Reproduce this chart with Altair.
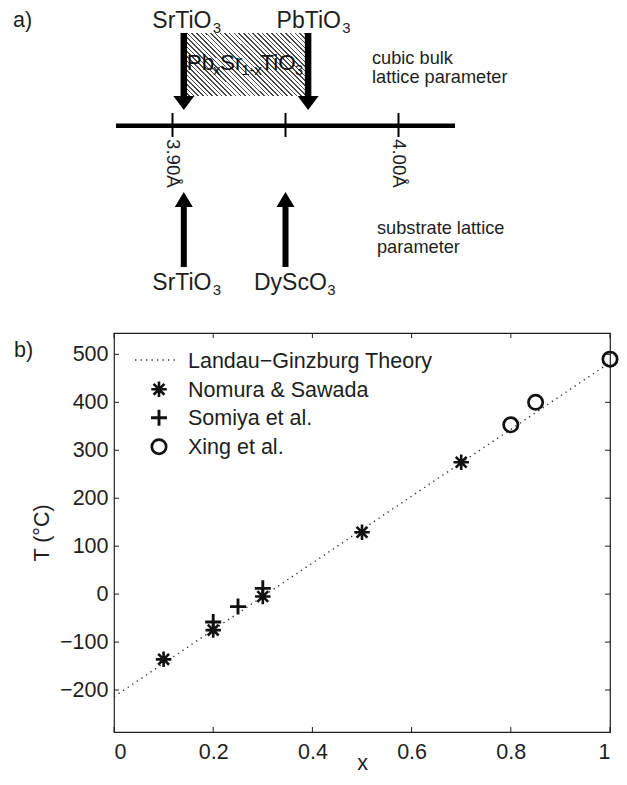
import altair as alt
import pandas as pd

# ---------------- panel b data ----------------
nomura_x = [0.1, 0.2, 0.3, 0.5, 0.7]
nomura_T = [-136, -75, -5, 129, 275]
somiya_x = [0.2, 0.25, 0.3]
somiya_T = [-58, -26, 12]
xing_x = [0.8, 0.85, 1.0]
xing_T = [353, 400, 490]
theory_x = [0.0, 1.0]
theory_T = [-214, 483]
series_names = ["Landau−Ginzburg Theory", "Nomura & Sawada", "Somiya et al.", "Xing et al."]
x_ticks = [0, 0.2, 0.4, 0.6, 0.8, 1.0]
y_ticks = [-200, -100, 0, 100, 200, 300, 400, 500]
x_domain = [0, 1]
y_domain = [-287.5, 544.5]

# ---------------- panel a data (lattice parameter, Å) ----------------
line_ends = [3.875, 4.025]
a_ticks = [3.90, 3.95, 4.00]
a_tick_labels = ["3.90Å", "", "4.00Å"]
bulk_names = ["SrTiO", "PbTiO"]
bulk_a = [3.905, 3.960]
substrate_names = ["SrTiO", "DyScO"]
substrate_a = [3.905, 3.950]
alloy_parts = [("Pb", False), ("x", True), ("Sr", False), ("1-x", True), ("TiO", False), ("3", True)]
note_bulk = ["cubic bulk", "lattice parameter"]
note_sub = ["substrate lattice", "parameter"]

# ---------------- layout helpers ----------------
W, H = 496, 399
TOP, LEFT = 333, 114   # page position of the plot frame (panel-a layout given in page px)
FONT = "Liberation Sans"
INK = "#1e1e1e"
FS_B = 21.5
FS_LABEL = 23
FS_SUB = 15
FS_NOTE = 18.2

# panel-a scale: 3.90 Å at page x 172.5, 2260 px per Å
PX_PER_A = 2260.0
a0_dom = 3.90 - (172.5 - LEFT) / PX_PER_A
a_domain = [a0_dom, a0_dom + W / PX_PER_A]

def py(v):
    return v - TOP

def px(v):
    return v - LEFT

ARIAL = {'S': 667, 'r': 333, 'T': 611, 'i': 222, 'O': 778, 'P': 667, 'b': 556,
         'D': 722, 'y': 500, 'c': 500, 'x': 500, '1': 556, '-': 333, '3': 556}

def tw(s, size):
    return sum(ARIAL.get(ch, 556) for ch in s) / 1000.0 * size

xa = alt.Scale(domain=a_domain, nice=False, zero=False)
xs = alt.Scale(domain=x_domain, nice=False, zero=False)
ys = alt.Scale(domain=y_domain, nice=False, zero=False)

one = pd.DataFrame({"k": [0]})

# ---------------- panel a ----------------
A = []

# hatched box between the bulk values (stripes through a linear gradient)
stops = []
n = 40
for i in range(n):
    o0, o1, o2 = i / n, (i + 0.33) / n, (i + 1) / n
    stops += [alt.GradientStop(color="#4a4a4a", offset=o0),
              alt.GradientStop(color="#4a4a4a", offset=o1),
              alt.GradientStop(color="#ffffff", offset=o1),
              alt.GradientStop(color="#ffffff", offset=o2)]
hatch = alt.LinearGradient(gradient="linear", stops=stops, x1=0, y1=1, x2=1.1986, y2=0.391)
df_box = pd.DataFrame({"a0": [bulk_a[0]], "a1": [bulk_a[1]]})
A.append(alt.Chart(df_box).mark_rect(fill=hatch).encode(
    x=alt.X("a0:Q", scale=xa, axis=None), x2="a1:Q",
    y=alt.value(py(33)), y2=alt.value(py(96))))

# alloy label inside the box
off = 3.0
for txt, sub in alloy_parts:
    fs = 14.5 if sub else 22.5
    A.append(alt.Chart(df_box).mark_text(
        text=txt, align="left", baseline="alphabetic", fontSize=fs, dx=off,
        color="#111111").encode(
        x=alt.X("a0:Q", scale=xa, axis=None),
        y=alt.value(py(75 if sub else 70))))
    off += tw(txt, fs) * (0.93 if sub else 0.96)

# bulk arrows (pointing down)
df_bulk = pd.DataFrame({"a": bulk_a, "name": bulk_names})
A.append(alt.Chart(df_bulk).mark_rule(color="black", strokeWidth=6.5).encode(
    x=alt.X("a:Q", scale=xa, axis=None), y=alt.value(py(33)), y2=alt.value(py(97))))
A.append(alt.Chart(df_bulk).mark_point(
    shape="M-1,-0.667L1,-0.667L0,0.667Z", size=441, filled=True, color="black",
    opacity=1, strokeWidth=0).encode(
    x=alt.X("a:Q", scale=xa, axis=None), y=alt.value(py(103))))

# substrate arrows (pointing up)
df_sub = pd.DataFrame({"a": substrate_a, "name": substrate_names})
A.append(alt.Chart(df_sub).mark_rule(color="black", strokeWidth=6).encode(
    x=alt.X("a:Q", scale=xa, axis=None), y=alt.value(py(205)), y2=alt.value(py(267))))
A.append(alt.Chart(df_sub).mark_point(
    shape="M-1,0.833L1,0.833L0,-0.833Z", size=324, filled=True, color="black",
    opacity=1, strokeWidth=0).encode(
    x=alt.X("a:Q", scale=xa, axis=None), y=alt.value(py(199.5))))

# compound labels with subscript 3
def compound_labels(df, base_y):
    out = []
    for _, r in df.iterrows():
        d = pd.DataFrame({"a": [r["a"]]})
        out.append(alt.Chart(d).mark_text(
            text=r["name"], align="left", baseline="alphabetic", fontSize=FS_LABEL,
            dx=-31.5, color=INK).encode(
            x=alt.X("a:Q", scale=xa, axis=None), y=alt.value(py(base_y))))
        out.append(alt.Chart(d).mark_text(
            text="3", align="left", baseline="alphabetic", fontSize=FS_SUB,
            dx=-31.5 + tw(r["name"], FS_LABEL) + 0.5, color=INK).encode(
            x=alt.X("a:Q", scale=xa, axis=None), y=alt.value(py(base_y + 5))))
    return out

A += compound_labels(df_bulk, 28)
A += compound_labels(df_sub, 290)

# lattice-parameter axis
df_line = pd.DataFrame({"a0": [line_ends[0]], "a1": [line_ends[1]]})
A.append(alt.Chart(df_line).mark_rule(color="black", strokeWidth=4.5).encode(
    x=alt.X("a0:Q", scale=xa, axis=None), x2="a1:Q", y=alt.value(py(125.7))))
df_at = pd.DataFrame({"a": a_ticks, "lab": a_tick_labels})
A.append(alt.Chart(df_at).mark_rule(color="black", strokeWidth=2).encode(
    x=alt.X("a:Q", scale=xa, axis=None), y=alt.value(py(113)), y2=alt.value(py(137))))
A.append(alt.Chart(df_at).mark_text(
    angle=90, align="left", baseline="middle", fontSize=18.7, color=INK).encode(
    x=alt.X("a:Q", scale=xa, axis=None), y=alt.value(py(139)), text="lab:N"))

# notes (two-line texts)
for lines, xx, yy in [(note_bulk, 372, 64), (note_sub, 377, 234)]:
    A.append(alt.Chart(one).mark_text(
        text=lines, align="left", baseline="alphabetic", fontSize=FS_NOTE,
        lineHeight=18.6, color=INK).encode(
        x=alt.value(px(xx)), y=alt.value(py(yy))))

A.append(alt.Chart(one).mark_text(
    text="a)", align="left", baseline="alphabetic", fontSize=FS_B, color=INK).encode(
    x=alt.value(px(13)), y=alt.value(py(26.5))))

panel_a = alt.layer(*A)

# ---------------- panel b ----------------
xaxis = alt.Axis(values=x_ticks, format="~r", title="x", grid=False, ticks=False, tickSize=0,
                 domain=False, labelFontSize=FS_B, labelColor=INK, labelPadding=9,
                 titleFontSize=FS_B, titleFontWeight="normal", titleColor=INK,
                 titleBaseline="alphabetic", titleY=769 - TOP - H)
yaxis = alt.Axis(values=y_ticks, format="~r", title="T (°C)", grid=False, ticks=False, tickSize=0,
                 domain=False, labelFontSize=FS_B, labelColor=INK, labelPadding=6,
                 titleFontSize=FS_B, titleFontWeight="normal", titleColor=INK,
                 titleBaseline="alphabetic", titleX=-66, titleY=H / 2)

def XQ():
    return alt.X("x:Q", scale=xs, axis=xaxis)

def YQ():
    return alt.Y("T:Q", scale=ys, axis=yaxis)

AST = "M0,-1L0,1M-1,0L1,0M-0.7,-0.7L0.7,0.7M-0.7,0.7L0.7,-0.7"
PLUS = "M-1,0L1,0M0,-1L0,1"
styles = {
    "ast": dict(shape=AST, size=240, strokeWidth=2.6),
    "plus": dict(shape=PLUS, size=256, strokeWidth=2.9),
    "circle": dict(shape="circle", size=205, strokeWidth=2.7),
}

B = []
df_theory = pd.DataFrame({"x": theory_x, "T": theory_T})
B.append(alt.Chart(df_theory).mark_line(color="#333333", strokeWidth=1.4,
                                        strokeDash=[1.3, 4.2]).encode(x=XQ(), y=YQ()))

for xv, tv, st in [(nomura_x, nomura_T, "ast"), (somiya_x, somiya_T, "plus"),
                   (xing_x, xing_T, "circle")]:
    d = pd.DataFrame({"x": xv, "T": tv})
    B.append(alt.Chart(d).mark_point(filled=False, color="#111111", opacity=1,
                                     **styles[st]).encode(x=XQ(), y=YQ()))

# inward ticks on all four sides (box style)
df_xt = pd.DataFrame({"x": x_ticks})
df_yt = pd.DataFrame({"T": y_ticks})
for y0, y1 in [(H, H - 5), (0, 5)]:
    B.append(alt.Chart(df_xt).mark_rule(color=INK, strokeWidth=1).encode(
        x=XQ(), y=alt.value(y0), y2=alt.value(y1)))
for x0, x1 in [(0, 5), (W, W - 5)]:
    B.append(alt.Chart(df_yt).mark_rule(color=INK, strokeWidth=1).encode(
        y=YQ(), x=alt.value(x0), x2=alt.value(x1)))

# legend (inside, top-left)
rows_y = [27, 56.3, 84.7, 113.7]
lx0 = px(135)
B.append(alt.Chart(one).mark_rule(color="#333333", strokeWidth=1.4, strokeDash=[1.3, 4.2]).encode(
    x=alt.value(lx0), x2=alt.value(lx0 + 43), y=alt.value(rows_y[0])))
for ry, st in zip(rows_y[1:], ["ast", "plus", "circle"]):
    B.append(alt.Chart(one).mark_point(filled=False, color="#111111", opacity=1,
                                       **styles[st]).encode(
        x=alt.value(lx0 + 24), y=alt.value(ry)))
for ry, name in zip(rows_y, series_names):
    B.append(alt.Chart(one).mark_text(
        text=name, align="left", baseline="alphabetic", fontSize=FS_B, color=INK).encode(
        x=alt.value(lx0 + 53), y=alt.value(ry + 7.7)))

B.append(alt.Chart(one).mark_text(
    text="b)", align="left", baseline="alphabetic", fontSize=FS_B, color=INK).encode(
    x=alt.value(px(14)), y=alt.value(py(357))))

panel_b = alt.layer(*B)

# fixed layout: plot frame at page (LEFT, TOP); total size fits the 627x785 window
chart = alt.layer(panel_a, panel_b).resolve_scale(x="independent").properties(
    width=W, height=H,
    autosize=alt.AutoSizeParams(type="none"),
    padding={"left": LEFT - 8, "top": TOP - 8, "right": 611 - (LEFT - 8) - W, "bottom": 41}
).configure(font=FONT).configure_view(stroke=INK, strokeWidth=1.2)

chart.save("out.html", embed_options={"renderer": "svg", "actions": False})
